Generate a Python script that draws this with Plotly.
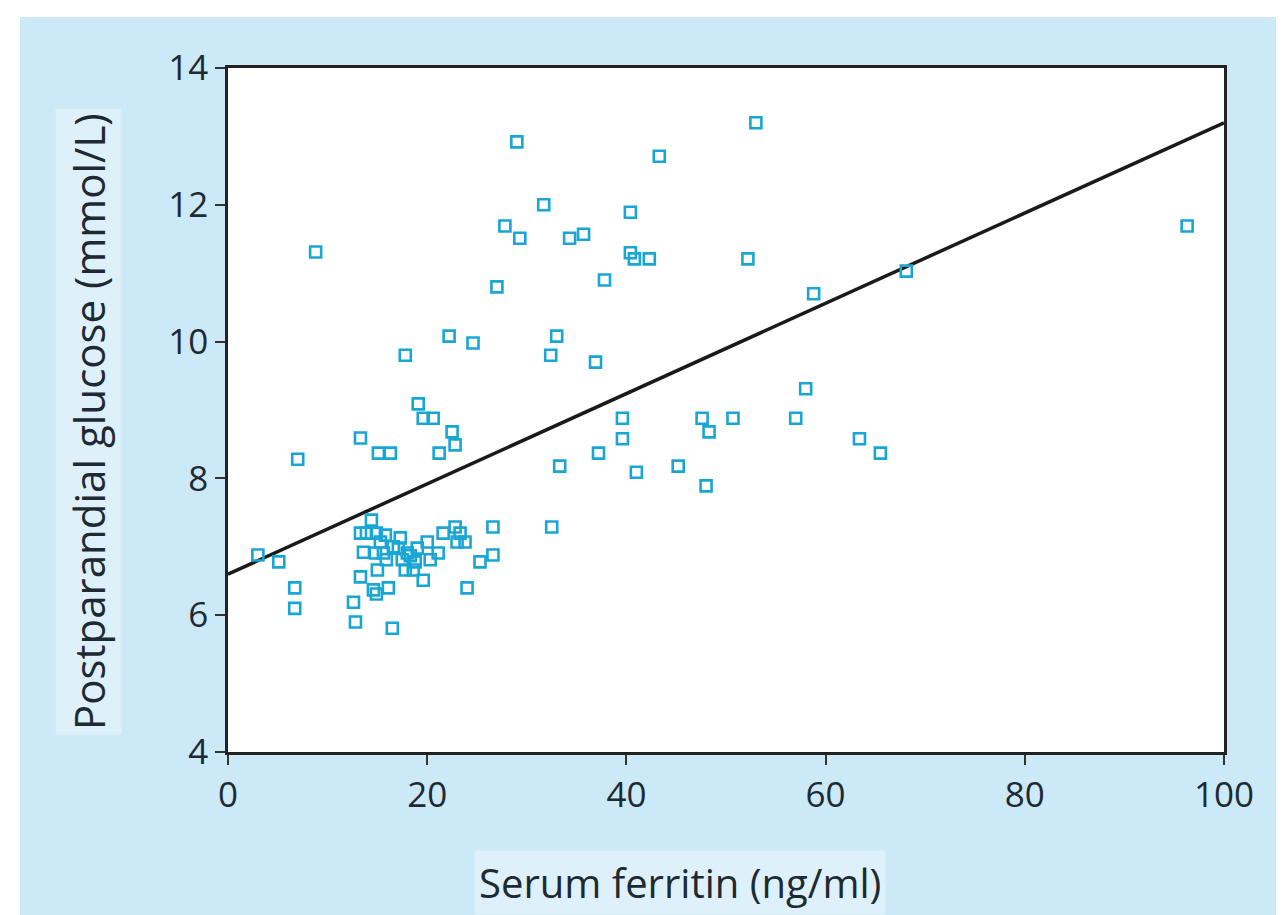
import plotly.graph_objects as go

# Serum ferritin (ng/ml)
ferritin = [3.0, 5.1, 6.7, 6.7, 7.0, 8.8,
            13.3, 15.1, 16.3,
            14.4, 13.3, 13.9, 14.9, 15.8, 17.3, 13.6, 14.8, 15.6, 15.3, 16.6,
            18.0, 17.5, 19.0, 20.0, 18.8, 17.8, 18.6, 19.6, 15.0, 14.6, 14.9,
            16.1, 13.3, 12.6, 12.8, 16.5, 21.1, 20.3, 21.6, 22.8, 23.3, 23.0,
            23.8, 26.6, 26.6, 25.3, 24.0, 17.1, 18.3, 15.9,
            17.8, 19.1, 19.6, 20.6, 21.2, 22.2, 22.5, 22.8, 24.6, 27.0, 27.8,
            29.0, 29.3, 31.7, 32.4, 33.0, 34.3, 35.7, 36.9, 37.8, 40.4, 40.4,
            40.8, 42.3, 43.3, 52.2, 53.0, 58.8, 68.1, 96.3,
            58.0, 57.0, 50.7, 47.6, 48.3, 48.0, 45.2, 41.0, 39.6, 39.6, 37.2,
            33.3, 32.5, 63.4, 65.5]

# Postprandial glucose (mmol/L)
glucose = [6.88, 6.78, 6.40, 6.10, 8.28, 11.31,
           8.59, 8.37, 8.37,
           7.39, 7.20, 7.20, 7.20, 7.17, 7.13, 6.92, 6.91, 6.91, 7.07, 7.00,
           6.91, 6.81, 6.98, 7.07, 6.78, 6.66, 6.66, 6.51, 6.66, 6.37, 6.31,
           6.40, 6.56, 6.19, 5.90, 5.81, 6.91, 6.81, 7.20, 7.29, 7.20, 7.07,
           7.07, 7.29, 6.88, 6.78, 6.40, 6.98, 6.87, 6.81,
           9.80, 9.09, 8.88, 8.88, 8.37, 10.08, 8.68, 8.49, 9.98, 10.80, 11.69,
           12.92, 11.51, 12.00, 9.80, 10.08, 11.51, 11.57, 9.70, 10.90, 11.89, 11.30,
           11.21, 11.21, 12.71, 11.21, 13.20, 10.70, 11.03, 11.69,
           9.31, 8.88, 8.88, 8.88, 8.68, 7.89, 8.18, 8.09, 8.88, 8.58, 8.37,
           8.18, 7.29, 8.58, 8.37]

# Regression line parameters
fit_intercept = 6.6
fit_slope = 0.066
fit_x = [0, 100]
fit_y = [fit_intercept + fit_slope * v for v in fit_x]

x_ticks = [0, 20, 40, 60, 80, 100]
y_ticks = [4, 6, 8, 10, 12, 14]

BLUE_BG = "#cce9f7"
TITLE_BG = "#def1fa"
MARKER = "#19a6d4"
TEXT = "#1e2a33"
FONT = "Open Sans"

fig = go.Figure()
fig.add_trace(go.Scatter(
    x=fit_x, y=fit_y, mode="lines",
    line=dict(color="#1a1a1a", width=3.5), hoverinfo="skip", showlegend=False))
fig.add_trace(go.Scatter(
    x=ferritin, y=glucose, mode="markers",
    marker=dict(symbol="square-open", size=11, color=MARKER,
                line=dict(color=MARKER, width=2.6)),
    showlegend=False))

W, H = 1284, 915
L, R, T, B = 220, 68, 60, 171
pw, ph = W - L - R, H - T - B

fig.update_layout(
    width=W, height=H,
    margin=dict(l=L, r=R, t=T, b=B, pad=0),
    paper_bgcolor=BLUE_BG,
    plot_bgcolor="white",
    font=dict(family=FONT, size=35, color=TEXT),
    shapes=[
        # white strip above the blue panel
        dict(type="rect", xref="paper", yref="paper", layer="below",
             x0=-(L + 20) / pw, x1=1 + (R + 20) / pw,
             y0=1 + (T - 9) / ph, y1=1 + (T + 20) / ph,
             fillcolor="white", line=dict(width=0)),
        # white strip left of the blue panel
        dict(type="rect", xref="paper", yref="paper", layer="below",
             x0=-(L + 20) / pw, x1=-(L - 12) / pw,
             y0=-(B + 20) / ph, y1=1 + (T + 20) / ph,
             fillcolor="white", line=dict(width=0)),
    ],
    annotations=[
        dict(text="Serum ferritin (ng/ml)", xref="paper", yref="paper",
             x=(672 - L) / pw, y=-(874 - (T + ph)) / ph,
             xanchor="center", yanchor="middle", showarrow=False,
             bgcolor=TITLE_BG, borderpad=4,
             font=dict(size=40, family=FONT, color=TEXT)),
        dict(text="Postparandial glucose (mmol/L)", xref="paper", yref="paper",
             x=-(L - 80) / pw, y=(T + ph - 414) / ph, textangle=-90,
             xanchor="center", yanchor="middle", showarrow=False,
             bgcolor=TITLE_BG, borderpad=4,
             font=dict(size=42, family=FONT, color=TEXT)),
    ],
)
fig.update_xaxes(range=[0, 100], tickvals=x_ticks, ticks="outside", ticklen=10,
                 tickwidth=2, tickcolor="#333", showline=True, linecolor="#222",
                 linewidth=2.5, mirror=True, showgrid=False, zeroline=False,
                 tickfont=dict(size=35))
fig.update_yaxes(range=[4, 14], tickvals=y_ticks, ticks="outside", ticklen=10,
                 tickwidth=2, tickcolor="#333", showline=True, linecolor="#222",
                 linewidth=2.5, mirror=True, showgrid=False, zeroline=False,
                 tickfont=dict(size=35))

fig.write_html("out.html")
